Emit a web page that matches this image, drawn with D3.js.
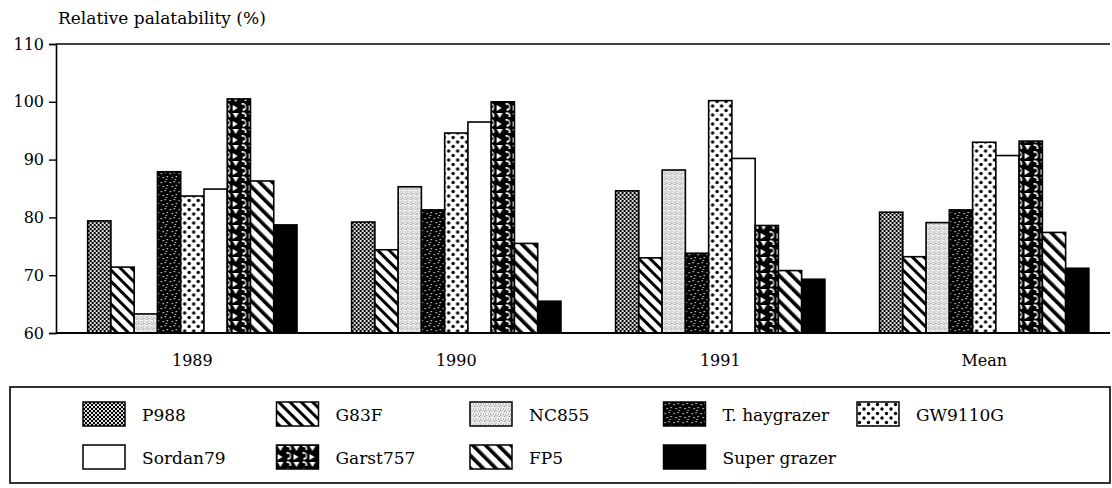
<!DOCTYPE html>
<html>
<head>
<meta charset="utf-8">
<script src="https://cdn.jsdelivr.net/npm/d3@7"></script>
<style>
	body { margin: 0; background: #fff; }
	svg text { fill: #000; font-family: 'DejaVu Serif', serif; }
</style>
</head>
<body>
<svg id="chart" width="1112" height="488"></svg>
<script>
// data
let groups = ['1989', '1990', '1991', 'Mean'];
let varieties = ['P988', 'G83F', 'NC855', 'T. haygrazer', 'GW9110G', 'Sordan79', 'Garst757', 'FP5', 'Super grazer'];
let p988 = [79.4, 79.2, 84.6, 80.9];
let g83f = [71.4, 74.4, 73.0, 73.2];
let nc855 = [63.3, 85.3, 88.2, 79.1];
let haygrazer = [87.9, 81.3, 73.8, 81.3];
let gw9110g = [83.7, 94.6, 100.2, 93.0];
let sordan79 = [84.9, 96.5, 90.2, 90.7];
let garst757 = [100.5, 100.0, 78.6, 93.2];
let fp5 = [86.3, 75.5, 70.8, 77.4];
let supergrazer = [78.7, 65.5, 69.3, 71.2];
let yTicks = [60, 70, 80, 90, 100, 110];
let yTitle = 'Relative palatability (%)';

let series = [p988, g83f, nc855, haygrazer, gw9110g, sordan79, garst757, fp5, supergrazer];
let fills = ['url(#pCheck)', 'url(#pDiag)', 'url(#pStipple)', 'url(#pSpeck)', 'url(#pDots)', '#fff', 'url(#pGarst)', 'url(#pDiag2)', '#000'];

let svg = d3.select('#chart');
let mLeft = 56, mRight = 1110, mTop = 44, mBottom = 333;

// patterns
let defs = svg.append('defs');
let p = defs.append('pattern').attr('id', 'pCheck').attr('width', 4).attr('height', 4).attr('patternUnits', 'userSpaceOnUse');
p.append('rect').attr('width', 4).attr('height', 4).attr('fill', '#000');
p.append('circle').attr('cx', 1).attr('cy', 1).attr('r', 1.05).attr('fill', '#fff');
p.append('circle').attr('cx', 3).attr('cy', 3).attr('r', 1.05).attr('fill', '#fff');

p = defs.append('pattern').attr('id', 'pDiag').attr('width', 8).attr('height', 8).attr('patternUnits', 'userSpaceOnUse').attr('patternTransform', 'rotate(-45)');
p.append('rect').attr('width', 8).attr('height', 8).attr('fill', '#fff');
p.append('rect').attr('width', 3).attr('height', 8).attr('fill', '#000');

p = defs.append('pattern').attr('id', 'pDiag2').attr('width', 9).attr('height', 9).attr('patternUnits', 'userSpaceOnUse').attr('patternTransform', 'rotate(-45)');
p.append('rect').attr('width', 9).attr('height', 9).attr('fill', '#fff');
p.append('rect').attr('width', 3.6).attr('height', 9).attr('fill', '#000');

p = defs.append('pattern').attr('id', 'pStipple').attr('width', 5).attr('height', 5).attr('patternUnits', 'userSpaceOnUse');
p.append('rect').attr('width', 5).attr('height', 5).attr('fill', '#f4f4f4');
[[1, 1], [3.5, 2], [2, 3.8], [4.3, 4.4], [0.4, 3]].forEach(d => p.append('circle').attr('cx', d[0]).attr('cy', d[1]).attr('r', 0.55).attr('fill', '#666'));

p = defs.append('pattern').attr('id', 'pSpeck').attr('width', 9).attr('height', 9).attr('patternUnits', 'userSpaceOnUse');
p.append('rect').attr('width', 9).attr('height', 9).attr('fill', '#000');
[[1, 2], [5, 1], [3, 6], [7, 5], [6, 8]].forEach(d => p.append('rect').attr('x', d[0]).attr('y', d[1]).attr('width', 1.2).attr('height', 1.2).attr('fill', '#fff'));

p = defs.append('pattern').attr('id', 'pDots').attr('width', 9).attr('height', 9).attr('patternUnits', 'userSpaceOnUse');
p.append('rect').attr('width', 9).attr('height', 9).attr('fill', '#fff');
p.append('circle').attr('cx', 2.5).attr('cy', 2.5).attr('r', 1.7).attr('fill', '#000');
p.append('circle').attr('cx', 7).attr('cy', 7).attr('r', 1.7).attr('fill', '#000');

// black with white crescents and triangles
p = defs.append('pattern').attr('id', 'pGarst').attr('width', 16).attr('height', 16).attr('patternUnits', 'userSpaceOnUse');
p.append('rect').attr('width', 16).attr('height', 16).attr('fill', '#000');
p.append('path').attr('d', 'M1,1 L7,1 L4,6 Z').attr('fill', '#fff');
p.append('path').attr('d', 'M10,7 A4,4 0 1,1 11,15 L11,12.6 A2,2 0 1,0 10,9.4 Z').attr('fill', '#fff');
p.append('path').attr('d', 'M1,9 L6,12 L1,15 Z').attr('fill', '#fff');
p.append('path').attr('d', 'M10,0.5 A3.5,3.5 0 0,1 14.5,5 L12.5,5 A1.6,1.6 0 0,0 10,2.4 Z').attr('fill', '#fff');

// scales
let x0 = d3.scaleBand().domain(groups).range([mLeft, mRight]).paddingInner(0.207).paddingOuter(0.1).align(0.6);
let x1 = d3.scaleBand().domain(varieties).range([0, x0.bandwidth()]);
let y = d3.scaleLinear().domain([60, 110]).range([mBottom, mTop]);

// bars
let g = svg.append('g');
groups.forEach((grp, gi) => {
	g.append('g').attr('transform', 'translate(' + x0(grp) + ',0)')
		.selectAll('rect').data(varieties).join('rect')
		.attr('x', d => x1(d))
		.attr('y', (d, i) => y(series[i][gi]))
		.attr('width', x1.bandwidth())
		.attr('height', (d, i) => y(60) - y(series[i][gi]))
		.attr('fill', (d, i) => fills[i])
		.attr('stroke', '#000')
		.attr('stroke-width', 1.6);
});

// axes
let yAxis = d3.axisLeft(y).tickValues(yTicks).tickSize(7).tickPadding(5).tickFormat(d3.format('d'));
let ya = svg.append('g').attr('transform', 'translate(' + mLeft + ',0)').call(yAxis);
ya.attr('font-family', null).attr('font-size', null);
ya.select('.domain').attr('stroke-width', 1.6);
ya.selectAll('.tick line').attr('stroke-width', 1.4);
ya.selectAll('text').style('font-size', '16px');

svg.append('line').attr('x1', mLeft).attr('x2', mRight).attr('y1', y(110)).attr('y2', y(110)).attr('stroke', '#000').attr('stroke-width', 1.6);
svg.append('line').attr('x1', mLeft).attr('x2', mRight).attr('y1', y(60)).attr('y2', y(60)).attr('stroke', '#000').attr('stroke-width', 1.8);

let xAxis = d3.axisBottom(x0).tickSize(0).tickPadding(22);
let xa = svg.append('g').attr('transform', 'translate(0,' + mBottom + ')').call(xAxis);
xa.attr('font-family', null).attr('font-size', null);
xa.select('.domain').remove();
xa.selectAll('text').style('font-size', '16px');

svg.append('text').attr('x', 58).attr('y', 24).style('font-size', '17px').text(yTitle);

// legend
svg.append('rect').attr('x', 10).attr('y', 387).attr('width', 1100).attr('height', 96)
	.attr('fill', 'none').attr('stroke', '#000').attr('stroke-width', 1.6);
let lx = d3.scalePoint().domain(d3.range(5)).range([83, 857]);
let ly = d3.scalePoint().domain([0, 1]).range([402, 445]);
let leg = svg.append('g').selectAll('g').data(varieties).join('g')
	.attr('transform', (d, i) => 'translate(' + lx(i % 5) + ',' + ly(Math.floor(i / 5)) + ')');
leg.append('rect').attr('width', 42).attr('height', 24)
	.attr('fill', (d, i) => fills[i]).attr('stroke', '#000').attr('stroke-width', 1.5);
leg.append('text').attr('x', 59).attr('y', 19).style('font-size', '17px').text(d => d);
</script>
</body>
</html>
